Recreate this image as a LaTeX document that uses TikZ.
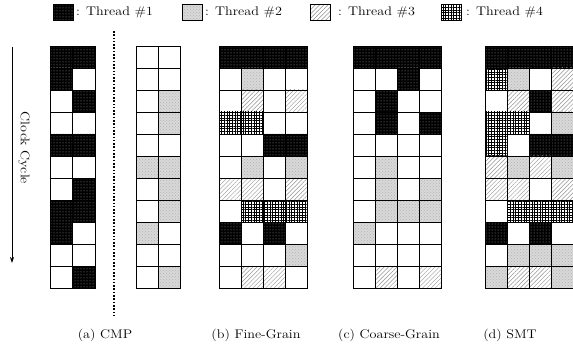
\documentclass[tikz,border=0pt]{standalone}
\usepackage{graphicx}
\usetikzlibrary{patterns,patterns.meta,arrows.meta}

% wide serif text
\newcommand\wtext[1]{\scalebox{1.13}[1]{#1}}

\tikzset{
  cellborder/.style={draw=black, line width=0.9pt},
  th0/.style={fill=white},
  th1/.style={fill=black, postaction={pattern=dots, pattern color=gray!75}},
  th2/.style={fill=gray!30, postaction={pattern=crosshatch dots, pattern color=gray!60}},
  th3/.style={fill=white, postaction={pattern={Lines[angle=45,distance=3pt,line width=0.45pt]}, pattern color=gray!85}},
  th4/.style={fill=white,
    postaction={pattern={Lines[angle=0,distance=2.7pt,line width=0.55pt]}, pattern color=black},
    postaction={pattern={Lines[angle=90,distance=2.7pt,line width=0.55pt]}, pattern color=black}},
  thread/.code={\ifcase#1 \tikzset{th0}\or\tikzset{th1}\or\tikzset{th2}\or\tikzset{th3}\or\tikzset{th4}\fi},
  lbl/.style={font=\fontsize{12.5}{14}\selectfont, inner sep=0pt},
}

% #1 left x, #2 cell width, #3 rows (top to bottom) of thread numbers
\newcommand\cellgrid[3]{%
  \foreach \row [count=\r from 0] in {#3} {
    \foreach \t [count=\c from 0] in \row {
      \fill[thread=\t] ({#1+\c*#2},{46+\r*22}) rectangle ++(#2,22);
    }
  }
  \foreach \row [count=\r from 0] in {#3} {
    \foreach \t [count=\c from 0] in \row {
      \draw[cellborder] ({#1+\c*#2},{46+\r*22}) rectangle ++(#2,22);
    }
  }
}

\begin{document}
\begin{tikzpicture}[x=1pt,y=-1pt]
\useasboundingbox (0,0) rectangle (573,350);
\fill[white] (0,0) rectangle (573,350);

% legend
\fill[thread=1] (53,4.5) rectangle (73,20.5);
\draw[line width=0.6pt] (53,4.5) rectangle (73,20.5);
\node[lbl, anchor=west] (leg1) at (76,12.5) {\wtext{: Thread \#1}};
\fill[thread=2] (182,4.5) rectangle (202,20.5);
\draw[line width=0.6pt] (182,4.5) rectangle (202,20.5);
\node[lbl, anchor=west] (leg2) at (205,12.5) {\wtext{: Thread \#2}};
\fill[thread=3] (310,4.5) rectangle (330,20.5);
\draw[line width=0.6pt] (310,4.5) rectangle (330,20.5);
\node[lbl, anchor=west] (leg3) at (338,12.5) {\wtext{: Thread \#3}};
\fill[thread=4] (441,4.5) rectangle (461,20.5);
\draw[line width=0.6pt] (441,4.5) rectangle (461,20.5);
\node[lbl, anchor=west] (leg4) at (466,12.5) {\wtext{: Thread \#4}};

% clock cycle axis
\coordinate (clk0) at (12,47);
\coordinate (clk1) at (12,263);
\draw[line width=0.8pt, -{Stealth[length=6pt,width=4pt]}] (clk0) -- (clk1);
\node[lbl, rotate=-90] (clk) at (24,148) {\wtext{Clock Cycle}};

% separator between the two CMP cores
\coordinate (sep0) at (114,31);
\coordinate (sep1) at (114,318);
\draw[line width=1.6pt, dash pattern=on 1.6pt off 1.7pt] (sep0) -- (sep1);

% (a) CMP: two cores
\cellgrid{50.5}{22.25}{{1,1},{1,0},{0,1},{0,0},{1,1},{0,0},{0,1},{1,1},{1,0},{0,0},{0,1}}
\cellgrid{136}{22.25}{{0,0},{0,0},{0,2},{0,2},{0,0},{2,2},{0,2},{0,2},{2,0},{0,0},{0,2}}

% (b) fine-grain
\cellgrid{219}{22}{{1,1,1,1},{0,2,0,0},{0,3,0,3},{4,4,0,0},{0,0,1,1},{0,2,0,2},{3,3,0,3},{0,4,4,4},{1,0,1,0},{0,0,0,2},{0,3,3,0}}

% (c) coarse-grain
\cellgrid{353}{22}{{1,1,1,1},{0,0,1,0},{0,1,0,0},{0,1,0,1},{0,0,0,0},{0,2,0,0},{0,2,0,2},{0,2,2,2},{2,0,0,0},{0,0,0,0},{0,3,0,3}}

% (d) SMT
\cellgrid{485}{22}{{1,1,1,1},{4,2,0,3},{0,3,1,3},{4,4,0,2},{4,0,1,1},{3,2,3,2},{3,3,0,3},{0,4,4,4},{1,0,1,0},{0,2,2,2},{2,3,3,2}}

% captions
\node[lbl] (capa) at (105,335) {\wtext{(a) CMP}};
\node[lbl] (capb) at (256,335) {\wtext{(b) Fine-Grain}};
\node[lbl] (capc) at (389,335) {\wtext{(c) Coarse-Grain}};
\node[lbl] (capd) at (510,335) {\wtext{(d) SMT}};
\end{tikzpicture}
\end{document}
